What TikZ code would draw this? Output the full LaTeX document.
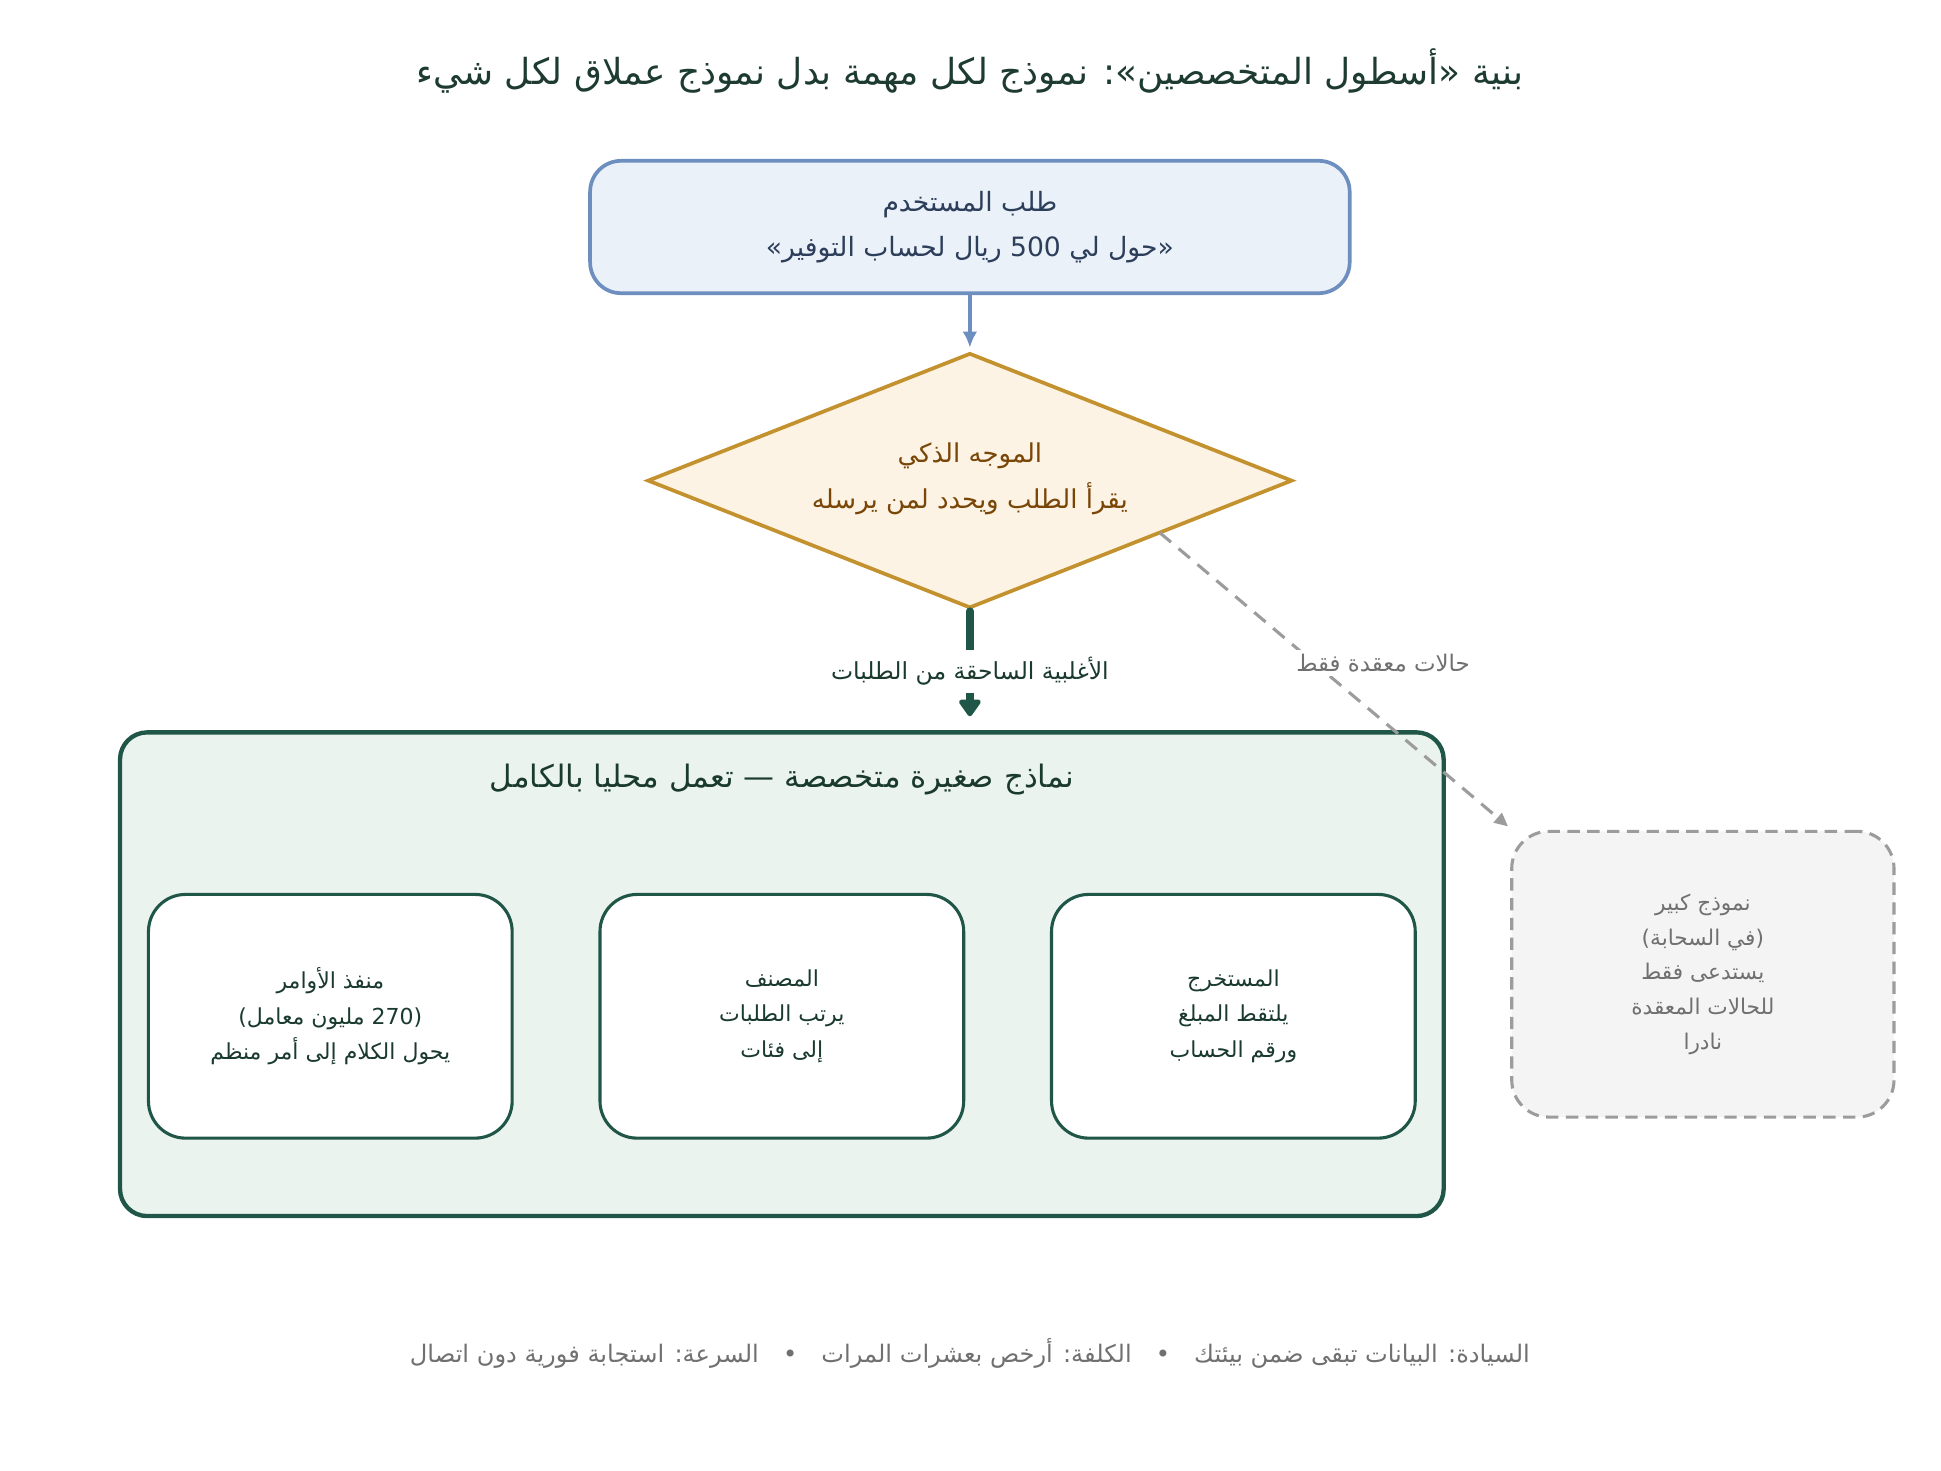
\documentclass[tikz,border=0pt]{standalone}
\usepackage{fontspec}
\TeXXeTstate=1
\newfontfamily\arabicfont[Script=Arabic]{DejaVu Sans}
\usetikzlibrary{shapes.geometric,arrows.meta,calc}
\definecolor{titlecol}{HTML}{1D3B30}
\definecolor{bluefill}{HTML}{EAF1F9}
\definecolor{bluedraw}{HTML}{6D8FC0}
\definecolor{bluetext}{HTML}{2D3E5A}
\definecolor{goldfill}{HTML}{FCF3E4}
\definecolor{golddraw}{HTML}{C3922E}
\definecolor{goldtext}{HTML}{7A4608}
\definecolor{greendraw}{HTML}{1F5648}
\definecolor{greenfill}{HTML}{EAF3EE}
\definecolor{greentext}{HTML}{1A3A2E}
\definecolor{graydraw}{HTML}{9C9C9C}
\definecolor{grayfill}{HTML}{F4F4F4}
\definecolor{graytext}{HTML}{707070}
\newcommand{\ar}[1]{\beginR #1\endR}
\begin{document}
\begin{tikzpicture}[x=1pt,y=-1pt,
  every node/.style={inner sep=0pt, outer sep=0pt, font=\arabicfont, align=center},
  topbox/.style={draw=bluedraw, fill=bluefill, line width=3pt, rounded corners=25pt,
    minimum width=614pt, minimum height=107pt, text=bluetext, font=\arabicfont\fontsize{21.5}{36}\selectfont},
  dbox/.style={diamond, draw=golddraw, fill=goldfill, line width=3pt,
    minimum width=520pt, minimum height=205pt},
  dtext/.style={text=goldtext, font=\arabicfont\fontsize{21}{37}\selectfont},
  contbox/.style={draw=greendraw, fill=greenfill, line width=3.5pt, rounded corners=22pt,
    minimum width=1070pt, minimum height=391pt},
  modelbox/.style={draw=greendraw, fill=white, line width=2.5pt, rounded corners=30pt,
    minimum width=294pt, minimum height=197pt, text=greentext, font=\arabicfont\fontsize{17.8}{29}\selectfont},
  cloudbox/.style={draw=graydraw, fill=grayfill, line width=2.5pt, dashed, dash pattern=on 10pt off 6pt,
    rounded corners=30pt, minimum width=309pt, minimum height=231pt, text=graytext,
    font=\arabicfont\fontsize{17.5}{28}\selectfont},
  bluearrow/.style={draw=bluedraw, line width=3.5pt, -{Latex[length=13pt,width=12pt]}},
  greenarrow/.style={draw=greendraw, line width=6pt, line cap=round, -{Triangle[round,length=15pt,width=20pt]}},
  grayarrow/.style={draw=graydraw, line width=2.5pt, dash pattern=on 12pt off 8pt, -{Triangle[length=11pt,width=10pt]}}
]
\useasboundingbox (0,0) rectangle (1569,1189);

% title
\node[text=titlecol, font=\arabicfont\fontsize{29}{34}\selectfont] (title) at (784,57)
  {\ar{بنية «أسطول المتخصصين»: نموذج لكل مهمة بدل نموذج عملاق لكل شيء}};

% user request
\node[topbox] (req) at (784,183.5) {\ar{طلب المستخدم}\\\ar{«حول لي \beginL 500\endL{} ريال لحساب التوفير»}};

% router
\node[dbox] (dia) at (784,388.5) {};
\node[dtext] (diat) at (784,387) {\ar{الموجه الذكي}\\\ar{يقرأ الطلب ويحدد لمن يرسله}};

% container
\node[contbox] (cont) at (632,787.5) {};
\node[text=greentext, font=\arabicfont\fontsize{25}{30}\selectfont] (conttitle) at (632,630)
  {\ar{نماذج صغيرة متخصصة — تعمل محليا بالكامل}};

% models
\node[modelbox] (exec) at (267,821.5) {\ar{منفذ الأوامر}\\\ar{(\beginL 270\endL{} مليون معامل)}\\\ar{يحول الكلام إلى أمر منظم}};
\node[modelbox] (clf) at (632,821.5) {\ar{المصنف}\\\ar{يرتب الطلبات}\\\ar{إلى فئات}};
\node[modelbox] (ext) at (997,821.5) {\ar{المستخرج}\\\ar{يلتقط المبلغ}\\\ar{ورقم الحساب}};

% cloud model
\node[cloudbox] (cloud) at (1376.5,787.5) {\ar{نموذج كبير}\\\ar{(في السحابة)}\\\ar{يستدعى فقط}\\\ar{للحالات المعقدة}\\\ar{نادرا}};

% connectors
\draw[bluearrow] (req.south) -- ([yshift=5pt]dia.north);
\coordinate (gstart) at ([yshift=-3pt]dia.south);
\coordinate (gend) at ([yshift=13pt]dia.south |- cont.north);
\draw[greenarrow] (gstart) -- (gend)
  node[pos=0.57, fill=white, inner xsep=4pt, inner ysep=6pt, text=greentext, font=\arabicfont\fontsize{19}{22}\selectfont] (mainlbl)
  {\ar{الأغلبية الساحقة من الطلبات}};
\coordinate (dstart) at ($(dia.east)!0.41!(dia.south)$);
\coordinate (dend) at ([xshift=-3pt,yshift=4pt]cloud.north west);
\draw[grayarrow] (dstart) -- (dend);
\node[fill=white, inner sep=3pt, text=graytext, font=\arabicfont\fontsize{18.5}{22}\selectfont] (sidelbl) at (1118,536)
  {\ar{حالات معقدة فقط}};

% footer
\node[text=graytext, font=\arabicfont\fontsize{19.5}{24}\selectfont] (footer) at (784,1094)
  {\ar{السيادة: البيانات تبقى ضمن بيئتك\quad•\quad الكلفة: أرخص بعشرات المرات\quad•\quad السرعة: استجابة فورية دون اتصال}};
\end{tikzpicture}
\end{document}
